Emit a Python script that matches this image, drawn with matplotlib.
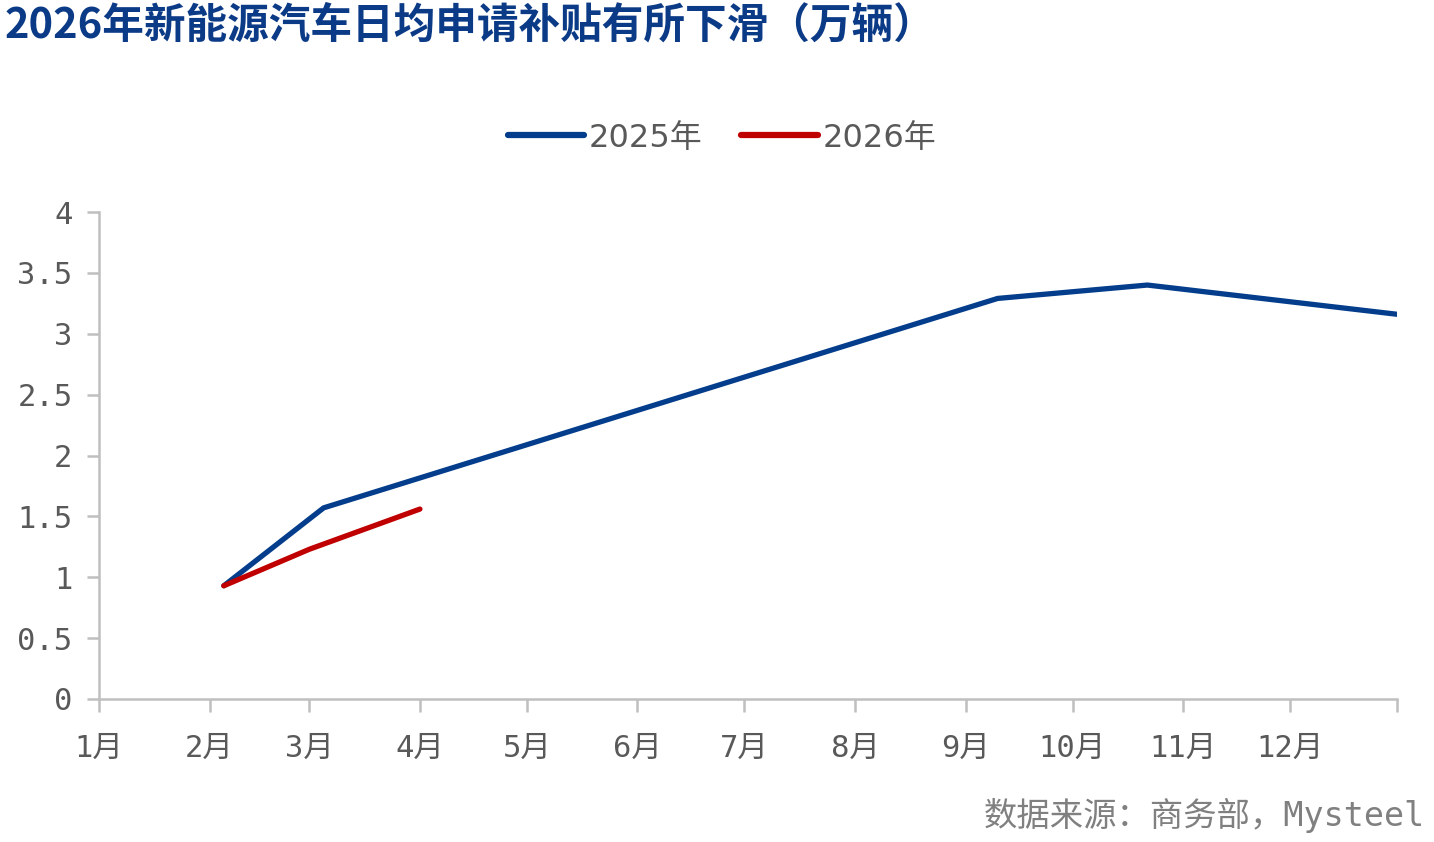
import numpy as np
import pandas as pd
import matplotlib
matplotlib.use("Agg")
import matplotlib.pyplot as plt
import matplotlib.dates as mdates

plt.rcParams['font.family'] = ['DejaVu Sans Mono', 'Noto Sans CJK SC']

# data (day of year, 2025 axis)
dates_2025 = ["2025-02-05", "2025-03-05", "2025-09-10", "2025-10-22", "2025-12-31"]
vals_2025 = [0.93, 1.57, 3.29, 3.40, 3.16]
dates_2026 = ["2025-02-05", "2025-03-01", "2025-04-01"]
vals_2026 = [0.93, 1.23, 1.56]

month_labels = [f"{m}月" for m in range(1, 13)]
y_ticks = [0, 0.5, 1, 1.5, 2, 2.5, 3, 3.5, 4]

title = "2026年新能源汽车日均申请补贴有所下滑（万辆）"
source = "数据来源：商务部，Mysteel"

blue = "#033D8B"
red = "#C00000"
grey = "#BFBFBF"
text_grey = "#595959"

fig = plt.figure(figsize=(14.34, 8.42), dpi=100)
ax = fig.add_axes([99 / 1434, 1 - 699 / 842, 1298 / 1434, 487 / 842])

ax.plot(pd.to_datetime(dates_2025), vals_2025, color=blue, lw=3.8,
        solid_capstyle="round", label="2025年")
ax.plot(pd.to_datetime(dates_2026), vals_2026, color=red, lw=3.8,
        solid_capstyle="round", label="2026年")

ax.set_xlim(pd.Timestamp("2025-01-01"), pd.Timestamp("2025-12-31"))
ax.set_ylim(0, 4)

tick_dates = list(pd.date_range("2025-01-01", periods=12, freq="MS")) + [pd.Timestamp("2025-12-31")]
ax.set_xticks(tick_dates)
ax.set_xticklabels(month_labels + [""])
ax.set_yticks(y_ticks)
ax.set_yticklabels([f"{v:g}" for v in y_ticks])

for s in ["top", "right"]:
    ax.spines[s].set_visible(False)
for s in ["left", "bottom"]:
    ax.spines[s].set_color(grey)
    ax.spines[s].set_linewidth(1.8)

ax.tick_params(axis="both", colors=grey, width=1.8, length=9, labelcolor=text_grey)
ax.tick_params(axis="x", pad=16, labelsize=22)
ax.tick_params(axis="y", pad=10, labelsize=22)

fig.text(5 / 1434, 1 - 26 / 842, title, fontsize=30, fontweight="bold", color="#0B3A86",
         family=["Noto Sans CJK SC"], va="center", ha="left")

leg = fig.legend(loc="center", bbox_to_anchor=(722 / 1434, 1 - 138 / 842), ncol=2,
                 frameon=False, handlelength=2.4, handletextpad=0.15,
                 columnspacing=1.2, labelcolor=text_grey,
                 prop={"family": ["DejaVu Sans", "Noto Sans CJK SC"], "size": 23})
for line in leg.get_lines():
    line.set_linewidth(4.5)

fig.text(1425 / 1434, 1 - 815 / 842, source, fontsize=24, color="#808080",
         ha="right", va="center")

fig.savefig("out.png", dpi=100, facecolor="white")
